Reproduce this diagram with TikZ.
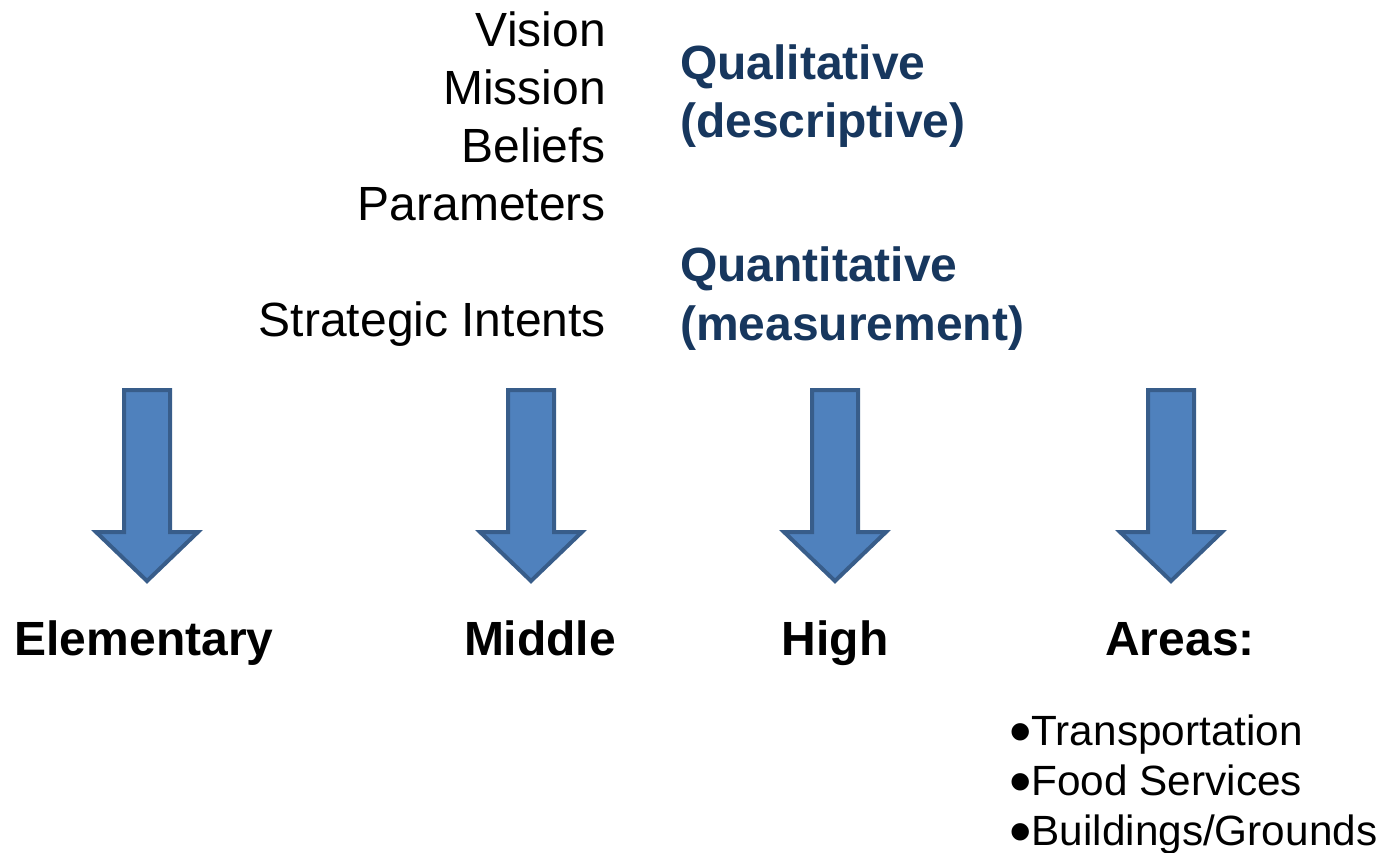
\documentclass[tikz,border=0pt]{standalone}
\usepackage{fontspec}
\setmainfont{Liberation Sans}
\usetikzlibrary{positioning}
\definecolor{arrowfill}{HTML}{4F81BD}
\definecolor{arrowline}{HTML}{385D8A}
\definecolor{headblue}{HTML}{17375E}
\newcommand{\bigbullet}{\smash{\fontsize{64}{50}\selectfont\raisebox{-8pt}{•}}}
\begin{document}
\begin{tikzpicture}[
    x=1pt, y=-1pt,
    plain/.style={
      inner sep=0pt,
      font=\fontsize{48}{58}\selectfont
    },
    headtext/.style={
      inner sep=0pt,
      text=headblue,
      font=\fontsize{48}{58}\selectfont\bfseries
    },
    level/.style={
      inner sep=0pt,
      anchor=base,
      font=\fontsize{48}{58}\selectfont\bfseries
    },
    item/.style={
      inner sep=0pt,
      anchor=base west,
      font=\fontsize{42.3}{50}\selectfont
    },
    downarrow/.style={
      fill=arrowfill,
      draw=arrowline,
      line width=4pt,
      line join=miter
    }
  ]
    \useasboundingbox (0,0) rectangle (1385,853);

    % Statements, right aligned
    \foreach \txt/\yy [count=\i] in {Vision/47,Mission/105,Beliefs/163,Parameters/221} {
      \node[plain, anchor=base east] (stmt\i) at (606,\yy) {\txt};
    }
    \node[plain, anchor=base east] (intents) at (606,336) {Strategic Intents};

    % Kinds of statements
    \node[headtext, anchor=base west] (qual) at (680,80) {Qualitative};
    \node[headtext, anchor=base west] (desc) at (680,138) {(descriptive)};
    \node[headtext, anchor=base west] (quant) at (680,282) {Quantitative};
    \node[headtext, anchor=base west] (meas) at (680,340) {(measurement)};

    % Block arrows
    \foreach \cx in {147,531,835,1171} {
      \draw[downarrow] (\cx-23,390) -- (\cx+23,390) -- (\cx+23,532)
        -- (\cx+51,532) -- (\cx,581) -- (\cx-51,532) -- (\cx-23,532) -- cycle;
    }

    % Levels
    \node[level] (elem) at (144,655) {Elementary};
    \node[level] (middle) at (540,655) {Middle};
    \node[level] (high) at (835,655) {High};
    \node[level] (areas) at (1180,655) {Areas:};

    % Areas list
    \node[item] (transp) at (1009,745) {\bigbullet Transportation};
    \node[item] (food) at (1009,795) {\bigbullet Food Services};
    \node[item] (build) at (1009,845) {\bigbullet Buildings/Grounds};

\end{tikzpicture}
\end{document}
